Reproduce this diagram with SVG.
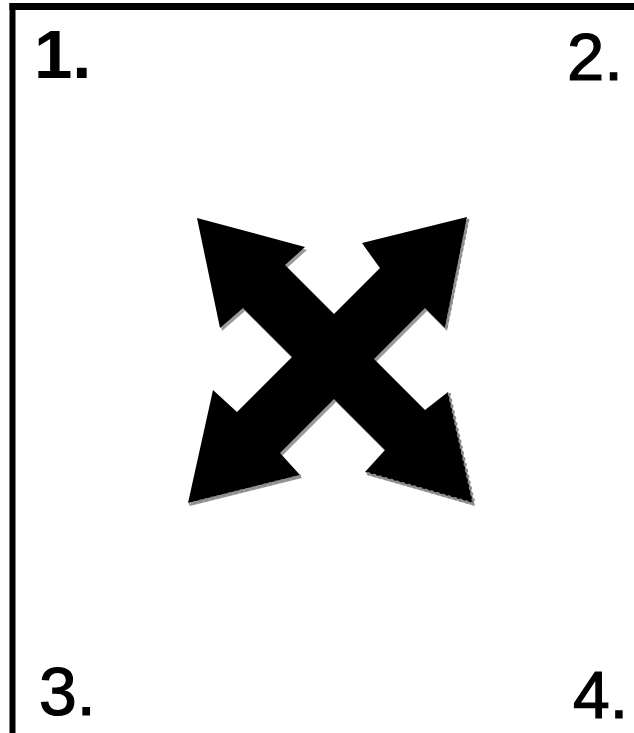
<svg xmlns="http://www.w3.org/2000/svg" width="634" height="733" viewBox="0 0 634 733">
  <style>
    .lbl { font-family: "Liberation Sans", Arial, sans-serif; fill: #000; }
    .thin { stroke: #000; stroke-width: 1.2; }
    .dash { fill: none; stroke: #8a8a8a; stroke-width: 3; stroke-dasharray: 3 3; }
  </style>
  <rect x="0" y="0" width="634" height="733" fill="#fff"/>
  <g id="frame">
    <line x1="9.5" y1="6.5" x2="634" y2="6.5" stroke="#000" stroke-width="7"/>
    <line x1="12.5" y1="3" x2="12.5" y2="733" stroke="#000" stroke-width="6"/>
  </g>
  <g id="label-1"><text class="lbl" x="34" y="78" font-size="69" font-weight="bold">1.</text></g>
  <g id="label-2"><text class="lbl thin" x="567" y="80" font-size="67">2.</text></g>
  <g id="label-3"><text class="lbl thin" x="39" y="715" font-size="68">3.</text></g>
  <g id="label-4"><text class="lbl thin" x="573" y="718" font-size="66">4.</text></g>
  <g id="arrows">
    <polygon transform="translate(2,3)" fill="#9a9a9a" points="197,218 305,247 285,265 334,314 380,268 362,243 467,217 445,328 425,308 374,359 425,410 448,392 473,503 365,472 385,450 334,399 280,453 300,475 188,503 213,390 237,412 292,357 243,308 220,328"/>
    <polygon fill="#000" points="197,218 305,247 285,265 334,314 380,268 362,243 467,217 445,328 425,308 374,359 425,410 448,392 473,503 365,472 385,450 334,399 280,453 300,475 188,503 213,390 237,412 292,357 243,308 220,328"/>
    <polyline class="dash" points="468,219 446,329"/>
    <polyline class="dash" points="449,393 474,504 366,473"/>
    <polyline class="dash" points="301,476 189,504"/>
  </g>
</svg>
